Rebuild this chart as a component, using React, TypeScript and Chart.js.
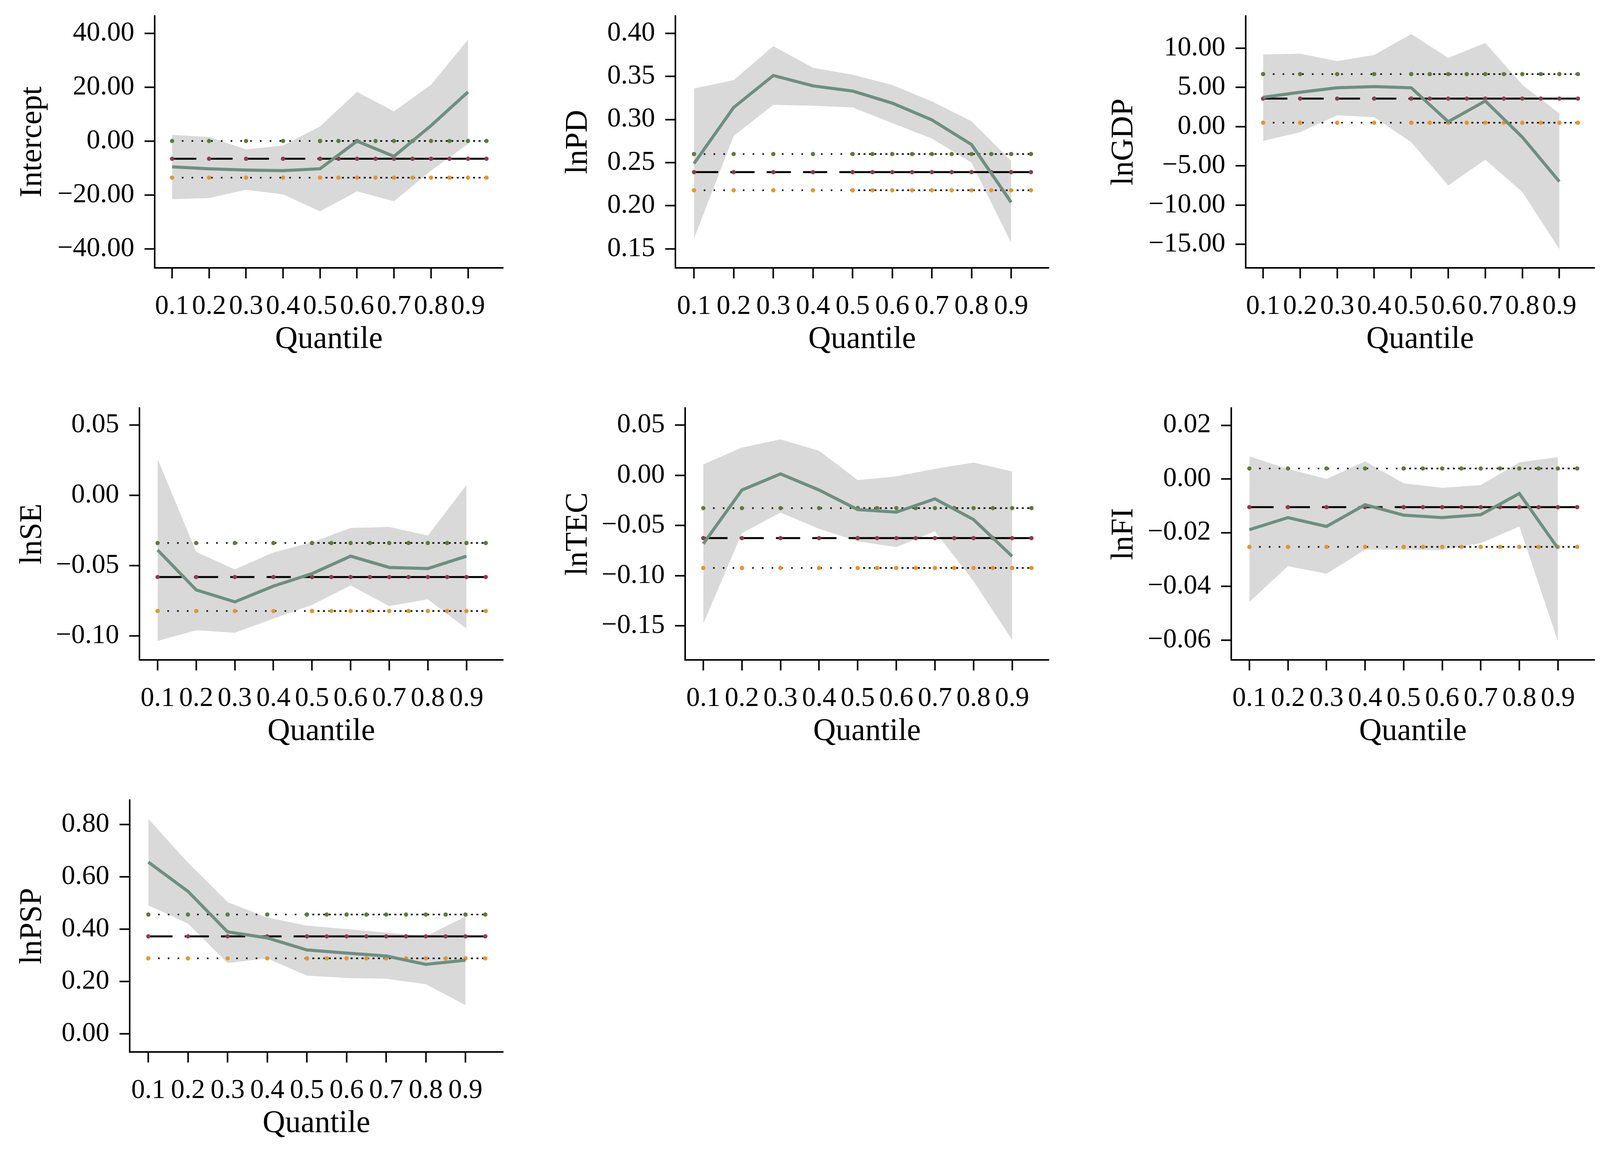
import React, { useEffect, useRef } from "react";
import { Chart, registerables } from "chart.js";

Chart.register(...registerables);

// ---------- data ----------
const quantiles = [0.1, 0.2, 0.3, 0.4, 0.5, 0.6, 0.7, 0.8, 0.9];
const markX1 = [0.1, 0.2, 0.3, 0.4, 0.5];
const markX2 = [0.5, 0.55, 0.6, 0.65, 0.7, 0.75, 0.8, 0.85, 0.9, 0.95];

// Intercept
const interceptCoef = [-9.5, -10.2, -10.7, -10.9, -10.2, 0.05, -5.6, 5.8, 18.3];
const interceptUpper = [2.4, 1.6, -3.0, -1.6, 5.5, 18.3, 11.1, 21.0, 37.7];
const interceptLower = [-21.5, -21.1, -18.0, -19.7, -26.0, -18.6, -22.3, -10.9, -1.0];
const interceptOls = [-6.5, 0.1, -13.5]; // estimate, upper, lower
const interceptTicks = [-40, -20, 0, 20, 40];

// lnPD
const lnPDCoef = [0.249, 0.314, 0.351, 0.339, 0.333, 0.319, 0.2995, 0.271, 0.204];
const lnPDUpper = [0.336, 0.3456, 0.385, 0.36, 0.352, 0.34, 0.321, 0.298, 0.252];
const lnPDLower = [0.162, 0.281, 0.317, 0.316, 0.314, 0.296, 0.278, 0.25, 0.157];
const lnPDOls = [0.239, 0.26, 0.218];
const lnPDTicks = [0.15, 0.2, 0.25, 0.3, 0.35, 0.4];

// lnGDP
const lnGDPCoef = [3.74, 4.38, 4.95, 5.11, 4.95, 0.63, 3.27, -1.34, -7.0];
const lnGDPUpper = [9.2, 9.3, 8.35, 9.14, 11.8, 8.76, 10.67, 5.33, 1.68];
const lnGDPLower = [-1.82, -0.71, 1.45, 1.2, -1.98, -7.5, -4.2, -8.33, -15.6];
const lnGDPOls = [3.58, 6.7, 0.5];
const lnGDPTicks = [-15, -10, -5, 0, 5, 10];

// lnSE
const lnSECoef = [-0.0388, -0.0672, -0.0757, -0.0645, -0.0556, -0.0432, -0.0512, -0.052, -0.0432];
const lnSEUpper = [0.026, -0.0402, -0.0526, -0.0405, -0.0334, -0.0231, -0.0224, -0.0286, 0.0074];
const lnSELower = [-0.1035, -0.0959, -0.0977, -0.0876, -0.0778, -0.064, -0.0787, -0.0739, -0.0947];
const lnSEOls = [-0.058, -0.0338, -0.0822];
const lnSETicks = [-0.1, -0.05, 0, 0.05];

// lnTEC
const lnTECCoef = [-0.0683, -0.0147, 0.0014, -0.0147, -0.0342, -0.0367, -0.0235, -0.0441, -0.0807];
const lnTECUpper = [0.0109, 0.0276, 0.0358, 0.0244, -0.0048, -0.0011, 0.0064, 0.0127, 0.0039];
const lnTECLower = [-0.148, -0.0576, -0.0372, -0.0533, -0.0658, -0.0715, -0.0558, -0.1056, -0.164];
const lnTECOls = [-0.0626, -0.0327, -0.0924];
const lnTECTicks = [-0.15, -0.1, -0.05, 0, 0.05];

// lnFI
const lnFICoef = [-0.0189, -0.0144, -0.0177, -0.0096, -0.0135, -0.0144, -0.0133, -0.0054, -0.0258];
const lnFIUpper = [0.0084, 0.0037, 0.0, 0.0065, -0.0016, -0.0033, -0.0023, 0.0062, 0.0081];
const lnFILower = [-0.0458, -0.0325, -0.0353, -0.0263, -0.0263, -0.0265, -0.0239, -0.0177, -0.0604];
const lnFIOls = [-0.0105, 0.0039, -0.0253];
const lnFITicks = [-0.06, -0.04, -0.02, 0, 0.02];

// lnPSP
const lnPSPCoef = [0.657, 0.545, 0.39, 0.367, 0.321, 0.309, 0.298, 0.266, 0.282];
const lnPSPUpper = [0.822, 0.655, 0.504, 0.445, 0.414, 0.401, 0.388, 0.373, 0.449];
const lnPSPLower = [0.492, 0.422, 0.271, 0.289, 0.223, 0.214, 0.211, 0.19, 0.11];
const lnPSPOls = [0.373, 0.4565, 0.289];
const lnPSPTicks = [0, 0.2, 0.4, 0.6, 0.8];

// ---------- styling / layout ----------
const FONT = "'Liberation Serif', 'Times New Roman', serif";
const COL_W = 1397;
const ROW_H = 1004;
const COEF_COLOR = "#6E8F81";
const BAND_COLOR = "#D9D9D9";
const GREEN_DOT = "#5E7B3C";
const MAROON_DOT = "#8E3B50";
const ORANGE_DOT = "#E8952B";

type PanelCfg = {
  title: string;
  coef: number[];
  upper: number[];
  lower: number[];
  ols: number[];
  ticks: number[];
  decimals: number;
  min: number;
  max: number;
  row: number;
  col: number;
  axisX: number;
};

const panels: PanelCfg[] = [
  { title: "Intercept", coef: interceptCoef, upper: interceptUpper, lower: interceptLower, ols: interceptOls, ticks: interceptTicks, decimals: 2, min: -47, max: 46.5, row: 0, col: 0, axisX: 396 },
  { title: "lnPD", coef: lnPDCoef, upper: lnPDUpper, lower: lnPDLower, ols: lnPDOls, ticks: lnPDTicks, decimals: 2, min: 0.128, max: 0.42, row: 0, col: 1, axisX: 332 },
  { title: "lnGDP", coef: lnGDPCoef, upper: lnGDPUpper, lower: lnGDPLower, ols: lnGDPOls, ticks: lnGDPTicks, decimals: 2, min: -18.0, max: 14.1, row: 0, col: 2, axisX: 395 },
  { title: "lnSE", coef: lnSECoef, upper: lnSEUpper, lower: lnSELower, ols: lnSEOls, ticks: lnSETicks, decimals: 2, min: -0.117, max: 0.0622, row: 1, col: 0, axisX: 357 },
  { title: "lnTEC", coef: lnTECCoef, upper: lnTECUpper, lower: lnTECLower, ols: lnTECOls, ticks: lnTECTicks, decimals: 2, min: -0.184, max: 0.067, row: 1, col: 1, axisX: 357 },
  { title: "lnFI", coef: lnFICoef, upper: lnFIUpper, lower: lnFILower, ols: lnFIOls, ticks: lnFITicks, decimals: 2, min: -0.0674, max: 0.0264, row: 1, col: 2, axisX: 358 },
  { title: "lnPSP", coef: lnPSPCoef, upper: lnPSPUpper, lower: lnPSPLower, ols: lnPSPOls, ticks: lnPSPTicks, decimals: 2, min: -0.069, max: 0.894, row: 2, col: 0, axisX: 332 },
];

function fmt(v: number, d: number): string {
  const r = Number(v.toFixed(d));
  if (Math.abs(r) < 1e-12) return (0).toFixed(d);
  return (r < 0 ? "\u2212" : "") + Math.abs(r).toFixed(d);
}

function Panel({ cfg }: { cfg: PanelCfg }) {
  const ref = useRef<HTMLCanvasElement>(null);
  useEffect(() => {
    const canvas = ref.current;
    if (!canvas) return;
    const pts = (ys: number[]) => quantiles.map((x, i) => ({ x, y: ys[i] }));
    const hline = (xs: number[], y: number) => xs.map((x) => ({ x, y }));
    const [est, up, lo] = cfg.ols;
    const hidden = { borderColor: "rgba(0,0,0,0)", borderWidth: 1, pointRadius: 0 };
    const dot = { pointRadius: 5.5, pointBorderWidth: 0, fill: false };
    const chart = new Chart(canvas, {
      type: "line",
      data: {
        datasets: [
          { data: pts(cfg.lower), ...hidden, fill: false, order: 20 },
          { data: pts(cfg.upper), ...hidden, fill: "-1", backgroundColor: BAND_COLOR, order: 19 },
          // upper reference (dotted, green markers)
          { data: hline(markX1, up), borderColor: "#000", borderWidth: 4, borderDash: [4, 21], pointBackgroundColor: GREEN_DOT, ...dot, order: 8 },
          { data: hline(markX2, up), borderColor: "#000", borderWidth: 4, borderDash: [5, 9], pointBackgroundColor: GREEN_DOT, ...dot, order: 8 },
          // lower reference (dotted, orange markers)
          { data: hline(markX1, lo), borderColor: "#000", borderWidth: 4, borderDash: [4, 21], pointBackgroundColor: ORANGE_DOT, ...dot, order: 8 },
          { data: hline(markX2, lo), borderColor: "#000", borderWidth: 4, borderDash: [5, 9], pointBackgroundColor: ORANGE_DOT, ...dot, order: 8 },
          // estimate (dashed, maroon markers)
          { data: hline(markX1, est), borderColor: "#000", borderWidth: 5, borderDash: [62, 31], pointBackgroundColor: MAROON_DOT, ...dot, order: 6 },
          { data: hline(markX2, est), borderColor: "#000", borderWidth: 5, pointBackgroundColor: MAROON_DOT, ...dot, order: 6 },
          // quantile coefficients
          { data: pts(cfg.coef), borderColor: COEF_COLOR, borderWidth: 8, pointRadius: 0, fill: false, order: 1 },
        ],
      },
      options: {
        animation: false,
        responsive: false,
        devicePixelRatio: 1,
        events: [],
        layout: { padding: { top: 41, right: 109, bottom: 0, left: 0 } },
        elements: { line: { tension: 0, borderCapStyle: "butt" } },
        plugins: {
          legend: { display: false },
          tooltip: { enabled: false },
          filler: { drawTime: "beforeDatasetsDraw" },
        },
        scales: {
          x: {
            type: "linear",
            min: 0.053,
            max: 0.995,
            afterBuildTicks: (s: any) => {
              s.ticks = quantiles.map((v) => ({ value: v }));
            },
            afterFit: (s: any) => {
              s.height = ROW_H - 41 - 645;
              s.paddingLeft = 0;
              s.paddingRight = 0;
            },
            ticks: {
              autoSkip: false,
              maxRotation: 0,
              minRotation: 0,
              padding: 31,
              color: "#000",
              font: { family: FONT, size: 70 },
              callback: (v: any) => Number(v).toFixed(1),
            },
            grid: { display: true, drawOnChartArea: false, drawTicks: true, tickLength: 27, tickWidth: 4, tickColor: "#000", color: "#000" },
            border: { display: true, color: "#000", width: 4 },
            title: { display: true, text: "Quantile", color: "#000", font: { family: FONT, size: 80, lineHeight: 1 }, padding: { top: 0, bottom: 94 } },
          },
          y: {
            type: "linear",
            min: cfg.min,
            max: cfg.max,
            afterBuildTicks: (s: any) => {
              s.ticks = cfg.ticks.map((v) => ({ value: v }));
            },
            afterFit: (s: any) => {
              s.width = cfg.axisX;
              s.paddingTop = 0;
              s.paddingBottom = 0;
            },
            ticks: {
              autoSkip: false,
              padding: 26,
              color: "#000",
              font: { family: FONT, size: 70 },
              callback: (v: any) => fmt(Number(v), cfg.decimals),
            },
            grid: { display: true, drawOnChartArea: false, drawTicks: true, tickLength: 26, tickWidth: 4, tickColor: "#000", color: "#000" },
            border: { display: true, color: "#000", width: 4 },
            title: { display: true, text: cfg.title, color: "#000", font: { family: FONT, size: 80, lineHeight: 1 }, padding: { top: 44, bottom: 0 } },
          },
        },
      } as any,
    });
    return () => chart.destroy();
  }, [cfg]);
  return (
    <canvas
      ref={ref}
      width={COL_W}
      height={ROW_H}
      style={{ position: "absolute", left: cfg.col * COL_W, top: cfg.row * ROW_H, width: COL_W, height: ROW_H }}
    />
  );
}

export default function App() {
  return (
    <div style={{ position: "absolute", left: 0, top: 0, width: 4126, height: 2963, background: "#fff", overflow: "hidden" }}>
      {panels.map((p) => (
        <Panel key={p.title} cfg={p} />
      ))}
    </div>
  );
}
